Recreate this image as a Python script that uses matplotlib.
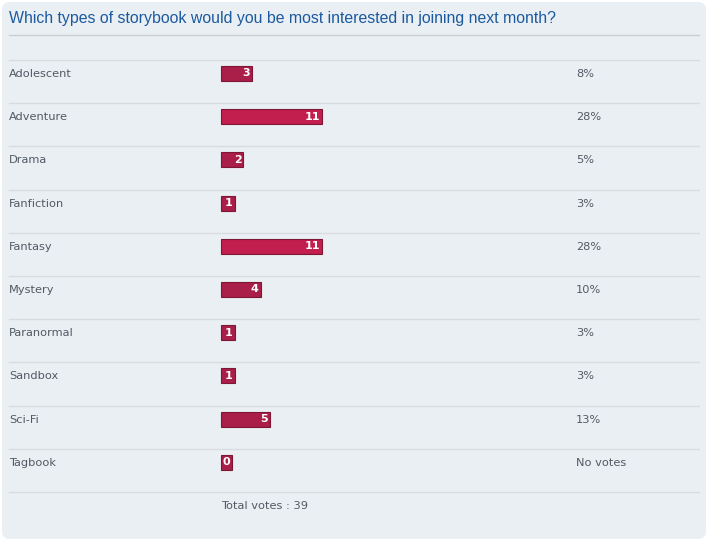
import matplotlib.pyplot as plt
from matplotlib.patches import FancyBboxPatch

# poll data
categories = ['Adolescent', 'Adventure', 'Drama', 'Fanfiction', 'Fantasy',
              'Mystery', 'Paranormal', 'Sandbox', 'Sci-Fi', 'Tagbook']
votes = [3, 11, 2, 1, 11, 4, 1, 1, 5, 0]
percent_labels = ['8%', '28%', '5%', '3%', '28%', '10%', '3%', '3%', '13%', 'No votes']
title = 'Which types of storybook would you be most interested in joining next month?'
total_votes = 39

W, H = 708, 541
fig = plt.figure(figsize=(W / 100, H / 100), dpi=100)
fig.patch.set_facecolor('white')
ax = fig.add_axes([0, 0, 1, 1])
ax.set_xlim(0, W)
ax.set_ylim(H, 0)
ax.axis('off')

bg = '#EAEFF3'
ax.add_patch(FancyBboxPatch((2, 2), W - 4, H - 4, boxstyle='round,pad=0,rounding_size=8',
                            facecolor=bg, edgecolor='none'))

ax.text(9, 19, title, fontsize=11.45, color='#1C5AA0', family='Liberation Sans',
        va='center', ha='left')
ax.plot([9, 699], [35, 35], color='#C9CED3', lw=1)

row_top = 60
row_h = 43.2
line_col = '#D8DCE0'
label_col = '#505A64'
bar_x = 221
px_per_vote = 8.7
max_v = max(votes)

for i, (cat, v, pct) in enumerate(zip(categories, votes, percent_labels)):
    y0 = row_top + i * row_h
    ax.plot([9, 699], [y0, y0], color=line_col, lw=1)
    yc = y0 + 14
    ax.text(9, yc, cat, fontsize=8.2, color=label_col, va='center', ha='left')
    w = max(v * px_per_vote + 5, 11)
    col = '#C21E4E' if v == max_v else '#A91F49'
    ax.barh(yc - 0.5, w, left=bar_x, height=15, color=col, edgecolor='#7E1636', lw=0.8)
    ax.text(bar_x + w - 2, yc - 0.5, str(v), fontsize=8, color='white', fontweight='bold',
            va='center', ha='right')
    ax.text(576, yc, pct, fontsize=8.2, color=label_col, va='center', ha='left')

y_end = row_top + len(categories) * row_h
ax.plot([9, 699], [y_end, y_end], color=line_col, lw=1)
ax.text(bar_x, y_end + 14, f'Total votes : {total_votes}', fontsize=8.2, color=label_col,
        va='center', ha='left')

fig.savefig('out.png', dpi=100, facecolor='white')
